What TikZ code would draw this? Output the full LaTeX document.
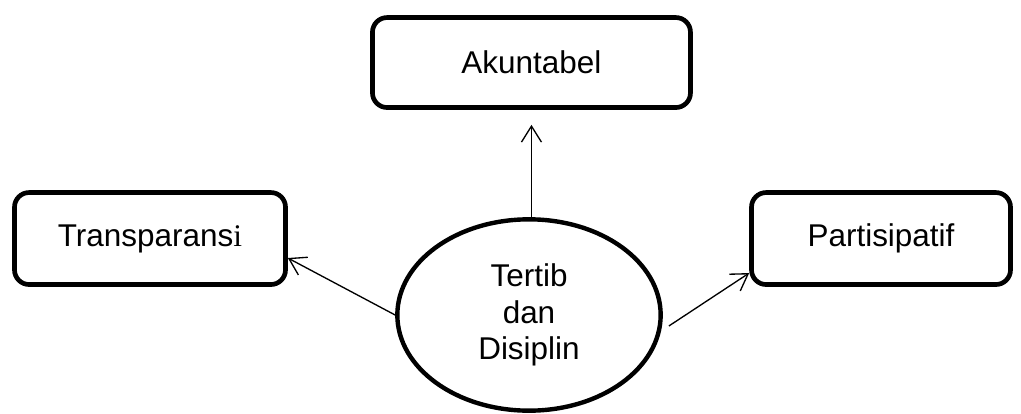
\documentclass[tikz,border=0pt]{standalone}
\usepackage{fontspec}
\setmainfont{Liberation Sans}
\newfontfamily\seriffont{Liberation Serif}
\usetikzlibrary{shapes.geometric,arrows.meta}

\begin{document}
\begin{tikzpicture}[
    font=\fontsize{23.6}{27.5}\selectfont,
    box/.style={draw, rectangle, rounded corners=11pt, line width=3.5pt, inner sep=0pt},
    core/.style={draw, ellipse, line width=3.3pt, inner sep=0pt, align=center, minimum width=197.5pt, minimum height=143.5pt},
    arr/.style={-{Straight Barb[length=12pt,width=15pt]}, line width=1pt}
]
    \useasboundingbox (0,0) rectangle (765.75pt,-310.5pt);

    \node (core) [core] at (396.75pt,-236.25pt) {Tertib\\dan\\Disiplin};
    \node (akun) [box, minimum width=238.5pt, minimum height=67.5pt] at (398.6pt,-46.9pt) {Akuntabel};
    \node (trans) [box, minimum width=203.25pt, minimum height=69pt] at (112.5pt,-178.9pt) {Transparans{\seriffont i}};
    \node (part) [box, minimum width=194.25pt, minimum height=69pt] at (660.75pt,-178.9pt) {Partisipatif};

    \draw[arr, shorten >=11.25pt] (core.north -| akun.south) -- (akun.south);
    \draw[arr] (core.west) -- ([yshift=-14.6pt]trans.east);
    \draw[arr] ([xshift=4.5pt, yshift=-8.25pt]core.east) -- ([yshift=-25.9pt]part.west);
\end{tikzpicture}
\end{document}
